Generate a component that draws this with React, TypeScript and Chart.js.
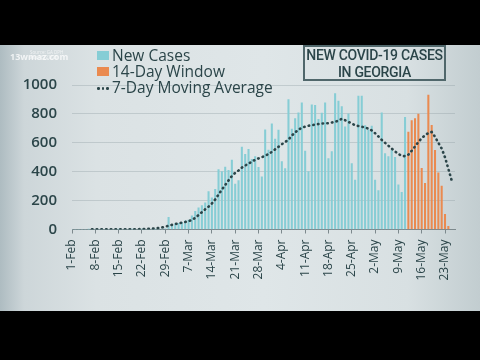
import React, { useEffect, useRef } from "react";
import { Chart, registerables } from "chart.js";

Chart.register(...registerables);

// Tick labels every 7 days starting 1-Feb (day index 0)
const tickLabels = [
  "1-Feb", "8-Feb", "15-Feb", "22-Feb", "29-Feb", "7-Mar", "14-Mar", "21-Mar",
  "28-Mar", "4-Apr", "11-Apr", "18-Apr", "25-Apr", "2-May", "9-May", "16-May", "23-May",
];

const yTickValues = [0, 200, 400, 600, 800, 1000];

// Daily new cases, day index 0 (1-Feb) .. 100 (11-May)
const newCases = [
  0, 0, 0, 0, 0, 1, 0, 0, 0, 1,
  0, 0, 0, 0, 1, 0, 0, 0, 1, 0,
  0, 1, 0, 1, 2, 1, 2, 3, 4,
  84, 30, 40, 42, 50, 60, 65, 95, 125, 150,
  165, 185, 263, 220, 278, 415, 400, 432, 410, 480,
  315, 338,
  571, 520, 555, 485, 505, 430, 364, 690, 550, 732,
  625, 688, 470, 422, 899, 695, 767, 808, 877, 543,
  400, 863, 860, 762, 805, 877, 491, 540, 940, 888,
  850, 710, 801, 457, 342, 923, 923, 720, 690, 715,
  342, 270, 808, 525, 505, 548, 500, 310, 258, 776,
];

// 14-day window, day index 101 (12-May) .. 113 (24-May)
const windowCases = [675, 753, 767, 799, 424, 320, 930, 721, 548, 393, 300, 105, 22];

// 7-day moving average, day index 0 .. 114
const movingAvg = [
  null, null, null, null, null, null,
  2, 2, 2, 2, 2, 2, 2, 2, 2, 2, 2, 2, 2, 2, 2,
  3, 3, 5, 6, 8, 10, 14, 20, 26, 32,
  38, 42, 48, 52, 58, 66, 80, 100, 120, 140,
  158, 180, 208, 242, 276, 308, 340, 370, 392, 408,
  428, 442, 456, 470, 482, 492, 500, 510, 522, 537,
  555, 572, 590, 605, 622, 650, 672, 690, 705, 712,
  718, 722, 726, 730, 733, 735, 736, 740, 746, 753,
  766, 756, 745, 733, 722, 716, 711, 706, 698, 686,
  666, 644, 620, 600, 580, 560, 540, 522, 510, 507,
  518, 545, 575, 606, 632, 652, 668, 675, 642, 600,
  560, 500, 420, 340,
];

const BLUE = "#86cdd5";
const ORANGE = "#ea8a50";
const DARK = "#2b4549";

export default function App() {
  const canvasRef = useRef<HTMLCanvasElement | null>(null);

  useEffect(() => {
    const windowStart = newCases.length;
    const chart = new Chart(canvasRef.current as HTMLCanvasElement, {
      type: "bar",
      data: {
        datasets: [
          {
            type: "line",
            label: "7-Day Moving Average",
            data: movingAvg.map((v, i) => ({ x: i, y: v })) as any,
            borderColor: DARK,
            borderWidth: 2.6,
            borderDash: [0.5, 4.2],
            borderCapStyle: "round",
            pointRadius: 0,
            fill: false,
            tension: 0,
            order: 0,
          } as any,
          {
            type: "bar",
            label: "New Cases",
            data: newCases.map((v, i) => ({ x: i, y: v })) as any,
            backgroundColor: BLUE,
            barThickness: 1.4,
            grouped: false,
            order: 1,
          } as any,
          {
            type: "bar",
            label: "14-Day Window",
            data: windowCases.map((v, i) => ({ x: i + windowStart, y: v })) as any,
            backgroundColor: ORANGE,
            barThickness: 1.4,
            grouped: false,
            order: 1,
          } as any,
        ],
      },
      options: {
        responsive: true,
        maintainAspectRatio: false,
        animation: false,
        layout: { padding: { top: 40, right: 25, left: 0, bottom: 0 } },
        plugins: {
          legend: { display: false },
          tooltip: { enabled: false },
        },
        scales: {
          x: {
            type: "linear",
            min: 0,
            max: 115,
            offset: false,
            afterBuildTicks: (s: any) => {
              s.ticks = tickLabels.map((_, i) => ({ value: i * 7 }));
            },
            afterFit: (s: any) => {
              s.height = 81.5;
            },
            ticks: {
              autoSkip: false,
              minRotation: 90,
              maxRotation: 90,
              padding: 6,
              color: DARK,
              font: { family: "'Open Sans'", size: 12, weight: "500" },
              callback: (_v: any, i: number) => tickLabels[i] ?? "",
            },
            grid: {
              display: true,
              drawOnChartArea: false,
              drawTicks: true,
              tickLength: 4,
              color: "#7d898d",
              offset: false,
            },
            border: { display: true, color: "#7d898d", width: 1 },
          } as any,
          y: {
            min: 0,
            max: 1000,
            afterBuildTicks: (s: any) => {
              s.ticks = yTickValues.map((v) => ({ value: v }));
            },
            afterFit: (s: any) => {
              s.width = 72;
            },
            ticks: {
              padding: 15,
              color: DARK,
              font: { family: "'Open Sans'", size: 15, weight: "600" },
              callback: (v: any) => String(v),
            },
            grid: { color: "rgba(140,155,160,0.35)", drawTicks: false, lineWidth: 1 },
            border: { display: false },
          } as any,
        },
      },
    });
    return () => chart.destroy();
  }, []);

  const legendText: React.CSSProperties = {
    position: "absolute",
    left: 112,
    fontFamily: "'Open Sans', sans-serif",
    fontSize: 15.5,
    fontWeight: 500,
    lineHeight: "16px",
    color: DARK,
    whiteSpace: "nowrap",
  };

  return (
    <div
      style={{
        position: "fixed",
        left: 0,
        top: 0,
        width: 480,
        height: 360,
        background: "#000",
        overflow: "hidden",
      }}
    >
      <div
        style={{
          position: "absolute",
          left: 0,
          top: 45,
          width: 480,
          height: 266,
          background:
            "linear-gradient(to right, #aebcc1 0%, #cdd6d9 5%, #dbe2e4 20%, #dfe6e8 55%, #d8e0e2 85%, #c2cdd0 100%)",
        }}
      >
        <canvas ref={canvasRef} />
      </div>

      {/* watermark */}
      <div
        style={{
          position: "absolute",
          left: 30,
          top: 50,
          fontFamily: "'Open Sans', sans-serif",
          fontSize: 4.5,
          lineHeight: "4.5px",
          color: "rgba(255,255,255,0.7)",
          whiteSpace: "nowrap",
        }}
      >
        Source: GA DPH
        <br />
        as of 5/21/20
      </div>
      <div
        style={{
          position: "absolute",
          left: 10,
          top: 52,
          fontFamily: "'Open Sans', sans-serif",
          fontSize: 9,
          fontWeight: 700,
          lineHeight: "10px",
          color: "rgba(255,255,255,0.75)",
          whiteSpace: "nowrap",
        }}
      >
        13wmaz.com
      </div>

      {/* legend */}
      <div style={{ position: "absolute", left: 97, top: 51, width: 12, height: 9, background: BLUE }} />
      <div style={{ ...legendText, top: 47 }}>New Cases</div>
      <div style={{ position: "absolute", left: 97, top: 67, width: 12, height: 9, background: ORANGE }} />
      <div style={{ ...legendText, top: 63 }}>14-Day Window</div>
      {[97, 101.5, 106].map((x) => (
        <div
          key={x}
          style={{
            position: "absolute",
            left: x,
            top: 87,
            width: 2.5,
            height: 2.5,
            borderRadius: "50%",
            background: DARK,
          }}
        />
      ))}
      <div style={{ ...legendText, top: 79 }}>7-Day Moving Average</div>

      {/* title box */}
      <div
        style={{
          position: "absolute",
          left: 303,
          top: 45,
          width: 143,
          height: 36,
          boxSizing: "border-box",
          border: "2px solid #50676b",
          fontFamily: "Roboto, sans-serif",
          fontSize: 14,
          fontWeight: 500,
          lineHeight: "17px",
          color: DARK,
          textAlign: "center",
          letterSpacing: -0.3,
          whiteSpace: "nowrap",
        }}
      >
        NEW COVID-19 CASES
        <br />
        IN GEORGIA
      </div>
    </div>
  );
}
